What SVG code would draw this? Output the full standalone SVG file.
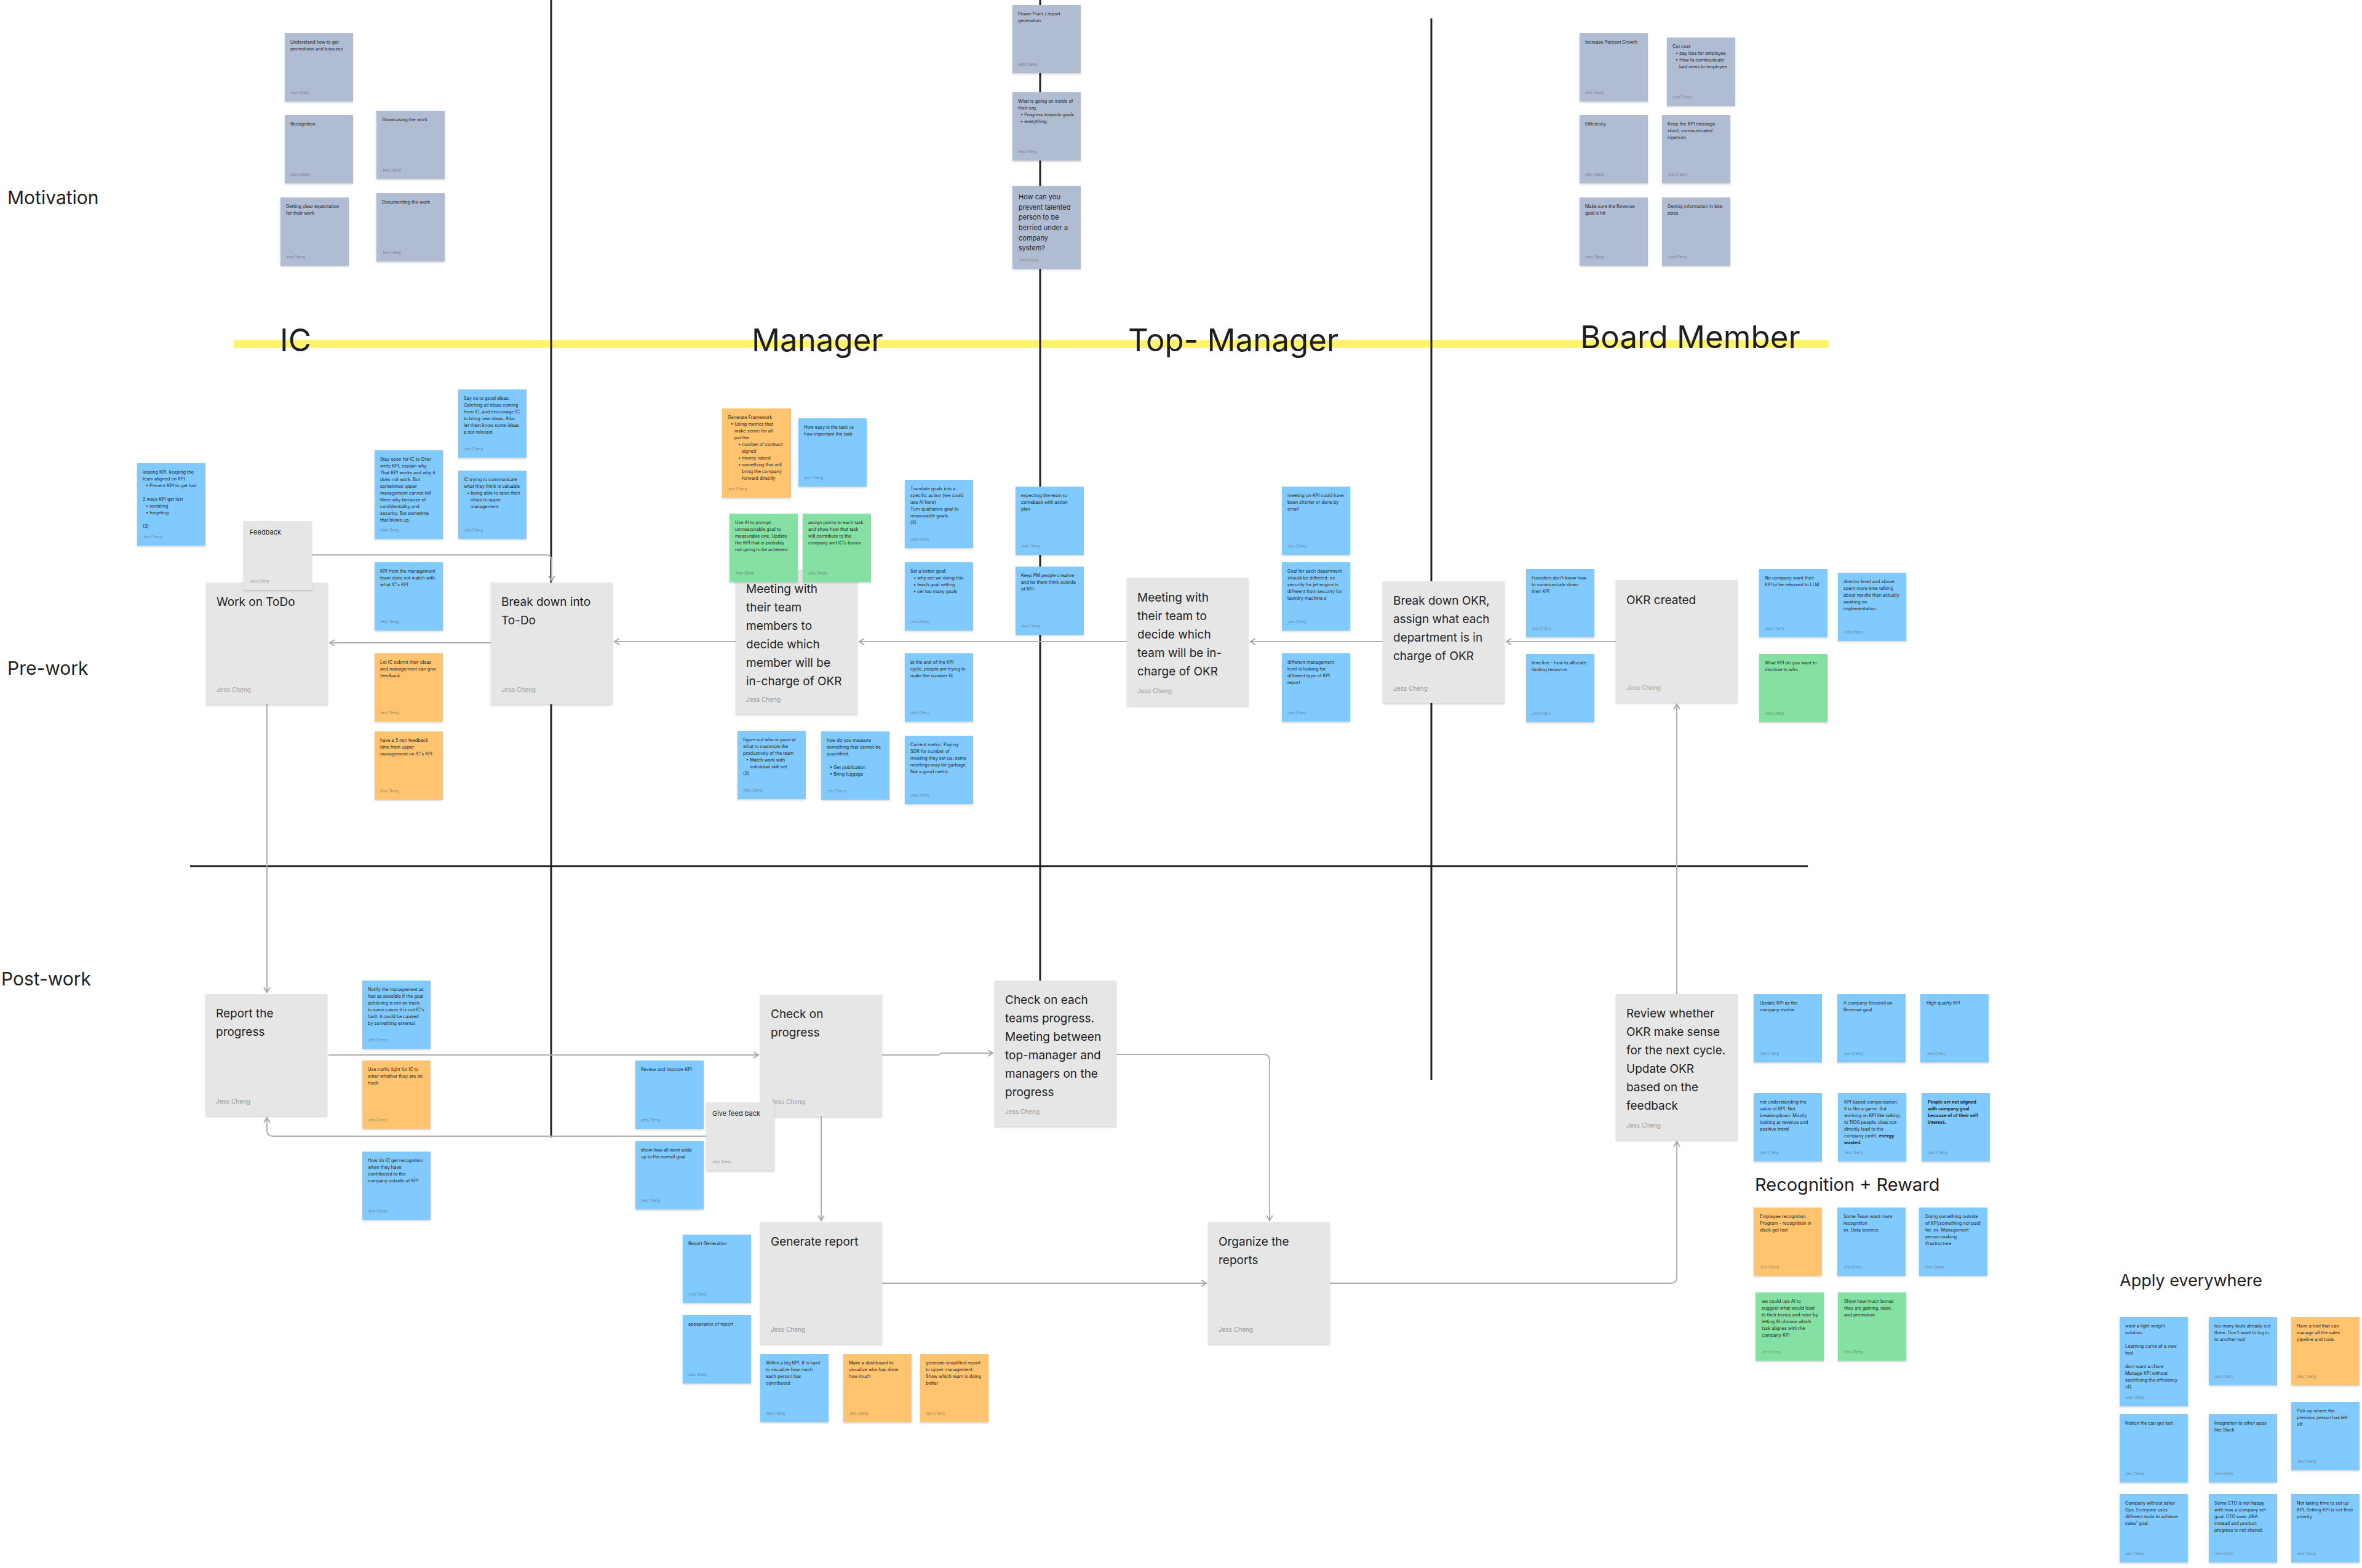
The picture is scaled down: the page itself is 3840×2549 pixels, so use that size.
<svg xmlns="http://www.w3.org/2000/svg" width="3840" height="2549" viewBox="0 0 3840 2549">
<defs>
<filter id="sh" x="-10%" y="-10%" width="120%" height="130%"><feDropShadow dx="0" dy="2" stdDeviation="1.5" flood-color="#000" flood-opacity="0.16"/></filter>
<marker id="ar" viewBox="0 0 14 14" refX="11" refY="7" markerWidth="14" markerHeight="14" markerUnits="userSpaceOnUse" orient="auto"><path d="M3 2 L11 7 L3 12" fill="none" stroke="#a8a8a8" stroke-width="2"/></marker>
<style>
text{font-family:Inter,"Noto Sans","Liberation Sans",sans-serif;fill:#1e1e1e}
.n rect{filter:url(#sh)}
.slate rect{fill:#afbcd2}
.blue rect{fill:#80caff}
.orange rect{fill:#ffc470}
.green rect{fill:#85e0a3}
.card rect{fill:#e6e6e6}
.t{font-size:7.3px}
.big{font-size:11px}
.b{font-weight:700}
.a{font-size:5.5px;fill:#4a4a4a;opacity:.55}
.ct{font-size:19px}
.cs{font-size:11px}
.ca{font-size:10px;fill:#999}
.lab{font-size:30px}
.head{font-size:51px}
.sec{font-size:29px}
.bl{stroke:#1e1e1e;stroke-width:3;fill:none}
.cn path{fill:none;stroke:#b0b0b0;stroke-width:2;marker-end:url(#ar)}
</style>
</defs>
<rect width="3840" height="2549" fill="#ffffff"/>

<g id="dividers">
<line x1="380" y1="559" x2="2973" y2="559" stroke="#fff36b" stroke-width="13"/>
<line class="bl" x1="896" y1="0" x2="896" y2="1849"/>
<line class="bl" x1="1691" y1="0" x2="1691" y2="1700"/>
<line class="bl" x1="2327" y1="30" x2="2327" y2="1756"/>
<line class="bl" x1="309" y1="1408" x2="2939" y2="1408"/>
</g>

<g id="labels">
<text class="lab" x="12" y="332">Motivation</text>
<text class="lab" x="12" y="1097">Pre-work</text>
<text class="lab" x="2" y="1602">Post-work</text>
<text class="head" x="455" y="571">IC</text>
<text class="head" x="1222" y="571">Manager</text>
<text class="head" x="1834" y="571">Top- Manager</text>
<text class="head" x="2569" y="566">Board Member</text>
<text class="sec" x="2853" y="1936">Recognition + Reward</text>
<text class="sec" x="3446" y="2091" style="font-size:27px">Apply everywhere</text>
</g>

<g id="connectors" class="cn">
<path d="M2627 1043 H2449"/>
<path d="M2248 1043 H2033"/>
<path d="M1832 1043 H1397"/>
<path d="M1196 1043 H999"/>
<path d="M798 1045 H536"/>
<path d="M507 902 H887 Q897 902 897 912 V944"/>
<path d="M434 1145 V1613"/>
<path d="M534 1715 H1233"/>
<path d="M1148 1847 H444 Q434 1847 434 1837 V1817"/>
<path d="M1434 1715 H1526 L1530 1712 H1614"/>
<path d="M1335 1815 V1984"/>
<path d="M1815 1714 H2054 Q2064 1714 2064 1724 V1984"/>
<path d="M1434 2086 H1961"/>
<path d="M2162 2086 H2716 Q2726 2086 2726 2076 V1856"/>
<path d="M2726 1616 V1145"/>
</g>

<!-- Motivation -->
<g id="m1" class="n slate" transform="translate(463,54)"><rect width="111" height="111"/><text class="t"><tspan x="9" y="17">Understand how to get</tspan><tspan x="9" y="28">promotions and bonuses</tspan></text><text class="a" x="9" y="99">Jess Cheng</text></g>
<g id="m2" class="n slate" transform="translate(463,187)"><rect width="111" height="111"/><text class="t"><tspan x="9" y="17">Recognition</tspan></text><text class="a" x="9" y="99">Jess Cheng</text></g>
<g id="m3" class="n slate" transform="translate(612,180)"><rect width="111" height="111"/><text class="t"><tspan x="9" y="17">Showcasing the work</tspan></text><text class="a" x="9" y="99">Jess Cheng</text></g>
<g id="m4" class="n slate" transform="translate(456,321)"><rect width="111" height="111"/><text class="t"><tspan x="9" y="17">Getting clear expectation</tspan><tspan x="9" y="28">for their work</tspan></text><text class="a" x="9" y="99">Jess Cheng</text></g>
<g id="m5" class="n slate" transform="translate(612,314)"><rect width="111" height="111"/><text class="t"><tspan x="9" y="17">Documenting the work</tspan></text><text class="a" x="9" y="99">Jess Cheng</text></g>

<g id="t1" class="n slate" transform="translate(1646,8)"><rect width="111" height="111"/><text class="t"><tspan x="9" y="17">Power Point / report</tspan><tspan x="9" y="28">generation</tspan></text><text class="a" x="9" y="99">Jess Cheng</text></g>
<g id="t2" class="n slate" transform="translate(1646,150)"><rect width="111" height="111"/><text class="t"><tspan x="9" y="17">What is going on inside of</tspan><tspan x="9" y="28">their org</tspan><tspan x="13" y="39">• Progress towards goals</tspan><tspan x="13" y="50">• everything</tspan></text><text class="a" x="9" y="99">Jess Cheng</text></g>
<g id="t3" class="n slate" transform="translate(1646,302)"><rect width="111" height="135"/><text class="big"><tspan x="10" y="22">How can you</tspan><tspan x="10" y="39">prevent talented</tspan><tspan x="10" y="55">person to be</tspan><tspan x="10" y="72">berried under a</tspan><tspan x="10" y="89">company</tspan><tspan x="10" y="105">system?</tspan></text><text class="a" x="10" y="123">Jess Cheng</text></g>

<g id="b1" class="n slate" transform="translate(2568,54)"><rect width="111" height="111"/><text class="t"><tspan x="9" y="17">Increase Percent Growth</tspan></text><text class="a" x="9" y="99">Jess Cheng</text></g>
<g id="b2" class="n slate" transform="translate(2710,61)"><rect width="111" height="111"/><text class="t"><tspan x="9" y="17">Cut cost</tspan><tspan x="14" y="28">• pay less for employee</tspan><tspan x="14" y="39">• How to communicate</tspan><tspan x="20" y="50">bad news to employee</tspan></text><text class="a" x="9" y="99">Jess Cheng</text></g>
<g id="b3" class="n slate" transform="translate(2568,187)"><rect width="111" height="111"/><text class="t"><tspan x="9" y="17">Efficiency</tspan></text><text class="a" x="9" y="99">Jess Cheng</text></g>
<g id="b4" class="n slate" transform="translate(2702,187)"><rect width="111" height="111"/><text class="t"><tspan x="9" y="17">Keep the KPI message</tspan><tspan x="9" y="28">short, communicated</tspan><tspan x="9" y="39">inperson</tspan></text><text class="a" x="9" y="99">Jess Cheng</text></g>
<g id="b5" class="n slate" transform="translate(2568,321)"><rect width="111" height="111"/><text class="t"><tspan x="9" y="17">Make sure the Revenue</tspan><tspan x="9" y="28">goal is hit</tspan></text><text class="a" x="9" y="99">Jess Cheng</text></g>
<g id="b6" class="n slate" transform="translate(2702,321)"><rect width="111" height="111"/><text class="t"><tspan x="9" y="17">Getting information in bite</tspan><tspan x="9" y="28">sizes</tspan></text><text class="a" x="9" y="99">Jess Cheng</text></g>

<!-- Pre-work IC -->
<g id="p1" class="n blue" transform="translate(223,753)"><rect width="111" height="134"/><text class="t"><tspan x="9" y="17">loosing KPI. keeping the</tspan><tspan x="9" y="28">team aligned on KPI</tspan><tspan x="14" y="39">• Prevent KPI to get lost</tspan><tspan x="9" y="61">2 ways KPI get lost</tspan><tspan x="14" y="72">• updating</tspan><tspan x="14" y="83">• forgeting</tspan><tspan x="9" y="105">(3)</tspan></text><text class="a" x="9" y="122">Jess Cheng</text></g>
<g id="p2" class="n blue" transform="translate(745,633)"><rect width="111" height="111"/><text class="t"><tspan x="9" y="17">Say no to good ideas.</tspan><tspan x="9" y="28">Catching all ideas coming</tspan><tspan x="9" y="39">from IC, and encourage IC</tspan><tspan x="9" y="50">to bring new ideas. Also</tspan><tspan x="9" y="61">let them know some ideas</tspan><tspan x="9" y="72">a not relevant</tspan></text><text class="a" x="9" y="99">Jess Cheng</text></g>
<g id="p3" class="n blue" transform="translate(609,732)"><rect width="111" height="144"/><text class="t"><tspan x="9" y="17">Stay open for IC to Over</tspan><tspan x="9" y="28">write KPI, explain why</tspan><tspan x="9" y="39">That KPI works and why it</tspan><tspan x="9" y="50">does not work. But</tspan><tspan x="9" y="61">sometimes upper</tspan><tspan x="9" y="72">management cannot tell</tspan><tspan x="9" y="83">them why because of</tspan><tspan x="9" y="94">confidentiality and</tspan><tspan x="9" y="105">security. But sometime</tspan><tspan x="9" y="116">that blows up.</tspan></text><text class="a" x="9" y="132">Jess Cheng</text></g>
<g id="p4" class="n blue" transform="translate(745,765)"><rect width="111" height="111"/><text class="t"><tspan x="9" y="17">IC trying to communicate</tspan><tspan x="9" y="28">what they think is valuable</tspan><tspan x="14" y="39">• being able to raise their</tspan><tspan x="20" y="50">ideas to upper</tspan><tspan x="20" y="61">management.</tspan></text><text class="a" x="9" y="99">Jess Cheng</text></g>
<g id="p5" class="n blue" transform="translate(609,914)"><rect width="111" height="111"/><text class="t"><tspan x="9" y="17">KPI from the management</tspan><tspan x="9" y="28">team does not match with</tspan><tspan x="9" y="39">what IC's KPI</tspan></text><text class="a" x="9" y="99">Jess Cheng</text></g>
<g id="p6" class="n orange" transform="translate(609,1062)"><rect width="111" height="111"/><text class="t"><tspan x="9" y="17">Let IC submit their ideas</tspan><tspan x="9" y="28">and management can give</tspan><tspan x="9" y="39">feedback</tspan></text><text class="a" x="9" y="99">Jess Cheng</text></g>
<g id="p7" class="n orange" transform="translate(609,1189)"><rect width="111" height="111"/><text class="t"><tspan x="9" y="17">have a 5 min feedback</tspan><tspan x="9" y="28">time from upper</tspan><tspan x="9" y="39">management on IC's KPI</tspan></text><text class="a" x="9" y="99">Jess Cheng</text></g>

<g id="c-work" class="n card" transform="translate(335,947)"><rect width="198" height="198"/><text class="ct"><tspan x="17" y="38">Work on ToDo</tspan></text><text class="ca" x="17" y="178">Jess Cheng</text></g>
<g id="c-feedback" class="n card" transform="translate(396,847)"><rect width="111" height="112"/><text class="cs"><tspan x="10" y="22">Feedback</tspan></text><text class="a" x="10" y="100">Jess Cheng</text></g>
<g id="c-breakdown" class="n card" transform="translate(798,947)"><rect width="198" height="198"/><text class="ct"><tspan x="17" y="38">Break down into</tspan><tspan x="17" y="68">To-Do</tspan></text><text class="ca" x="17" y="178">Jess Cheng</text></g>

<!-- Pre-work Manager -->
<g id="q1" class="n orange" transform="translate(1174,664)"><rect width="112" height="145"/><text class="t"><tspan x="9" y="17">Generate Framework</tspan><tspan x="14" y="28">• Using metrics that</tspan><tspan x="20" y="39">make sense for all</tspan><tspan x="20" y="50">parties</tspan><tspan x="26" y="61">• number of contract</tspan><tspan x="32" y="72">signed</tspan><tspan x="26" y="83">• money raised</tspan><tspan x="26" y="94">• something that will</tspan><tspan x="32" y="105">bring the company</tspan><tspan x="32" y="116">forward directly</tspan></text><text class="a" x="9" y="133">Jess Cheng</text></g>
<g id="q2" class="n blue" transform="translate(1298,680)"><rect width="111" height="111"/><text class="t"><tspan x="9" y="17">How easy is the task vs</tspan><tspan x="9" y="28">how important the task</tspan></text><text class="a" x="9" y="99">Jess Cheng</text></g>
<g id="c-members" class="n card" transform="translate(1196,926)"><rect width="198" height="235"/><text class="ct"><tspan x="17" y="38">Meeting with</tspan><tspan x="17" y="68">their team</tspan><tspan x="17" y="98">members to</tspan><tspan x="17" y="128">decide which</tspan><tspan x="17" y="158">member will be</tspan><tspan x="17" y="188">in-charge of OKR</tspan></text><text class="ca" x="17" y="215">Jess Cheng</text></g>
<g id="q3" class="n green" transform="translate(1186,835)"><rect width="111" height="111"/><text class="t"><tspan x="9" y="17">Use AI to prompt</tspan><tspan x="9" y="28">unmeasurable goal to</tspan><tspan x="9" y="39">measurable one. Update</tspan><tspan x="9" y="50">the KPI that is probably</tspan><tspan x="9" y="61">not going to be achieved</tspan></text><text class="a" x="9" y="99">Jess Cheng</text></g>
<g id="q4" class="n green" transform="translate(1305,835)"><rect width="111" height="111"/><text class="t"><tspan x="9" y="17">assign points to each task</tspan><tspan x="9" y="28">and show how that task</tspan><tspan x="9" y="39">will contribute to the</tspan><tspan x="9" y="50">company and IC's bonus</tspan></text><text class="a" x="9" y="99">Jess Cheng</text></g>
<g id="q5" class="n blue" transform="translate(1199,1188)"><rect width="111" height="111"/><text class="t"><tspan x="9" y="17">figure out who is good at</tspan><tspan x="9" y="28">what to maximize the</tspan><tspan x="9" y="39">productivity of the team</tspan><tspan x="14" y="50">• Match work with</tspan><tspan x="20" y="61">individual skill set</tspan><tspan x="9" y="72">(2)</tspan></text><text class="a" x="9" y="99">Jess Cheng</text></g>
<g id="q6" class="n blue" transform="translate(1335,1189)"><rect width="111" height="111"/><text class="t"><tspan x="9" y="17">how do you measure</tspan><tspan x="9" y="28">something that cannot be</tspan><tspan x="9" y="39">quantified.</tspan><tspan x="14" y="61">• Get publication</tspan><tspan x="14" y="72">• Bring luggage</tspan></text><text class="a" x="9" y="99">Jess Cheng</text></g>
<g id="q7" class="n blue" transform="translate(1471,780)"><rect width="111" height="111"/><text class="t"><tspan x="9" y="17">Translate goals into a</tspan><tspan x="9" y="28">specific action (we could</tspan><tspan x="9" y="39">use AI here)</tspan><tspan x="9" y="50">Turn qualitative goal to</tspan><tspan x="9" y="61">measurable goals.</tspan><tspan x="9" y="72">(2)</tspan></text><text class="a" x="9" y="99">Jess Cheng</text></g>
<g id="q8" class="n blue" transform="translate(1471,914)"><rect width="111" height="111"/><text class="t"><tspan x="9" y="17">Set a better goal:</tspan><tspan x="14" y="28">• why are we doing this</tspan><tspan x="14" y="39">• teach goal setting</tspan><tspan x="14" y="50">• set too many goals</tspan></text><text class="a" x="9" y="99">Jess Cheng</text></g>
<g id="q9" class="n blue" transform="translate(1471,1062)"><rect width="111" height="111"/><text class="t"><tspan x="9" y="17">at the end of the KPI</tspan><tspan x="9" y="28">cycle, people are trying to</tspan><tspan x="9" y="39">make the number fit</tspan></text><text class="a" x="9" y="99">Jess Cheng</text></g>
<g id="q10" class="n blue" transform="translate(1471,1196)"><rect width="111" height="111"/><text class="t"><tspan x="9" y="17">Current metric: Paying</tspan><tspan x="9" y="28">SDR for number of</tspan><tspan x="9" y="39">meeting they set up. some</tspan><tspan x="9" y="50">meetings may be garbage.</tspan><tspan x="9" y="61">Not a good metric</tspan></text><text class="a" x="9" y="99">Jess Cheng</text></g>

<!-- Pre-work Top manager -->
<g id="r1" class="n blue" transform="translate(1651,791)"><rect width="111" height="111"/><text class="t"><tspan x="9" y="17">expecting the team to</tspan><tspan x="9" y="28">comeback with action</tspan><tspan x="9" y="39">plan</tspan></text><text class="a" x="9" y="99">Jess Cheng</text></g>
<g id="r2" class="n blue" transform="translate(1651,921)"><rect width="111" height="111"/><text class="t"><tspan x="9" y="17">Keep PM people creative</tspan><tspan x="9" y="28">and let them think outside</tspan><tspan x="9" y="39">of KPI</tspan></text><text class="a" x="9" y="99">Jess Cheng</text></g>
<g id="c-team" class="n card" transform="translate(1832,939)"><rect width="198" height="208"/><text class="ct"><tspan x="17" y="39">Meeting with</tspan><tspan x="17" y="69">their team to</tspan><tspan x="17" y="99">decide which</tspan><tspan x="17" y="129">team will be in-</tspan><tspan x="17" y="159">charge of OKR</tspan></text><text class="ca" x="17" y="188">Jess Cheng</text></g>
<g id="r3" class="n blue" transform="translate(2084,791)"><rect width="111" height="111"/><text class="t"><tspan x="9" y="17">meeting on KPI could have</tspan><tspan x="9" y="28">been shorter or done by</tspan><tspan x="9" y="39">email</tspan></text><text class="a" x="9" y="99">Jess Cheng</text></g>
<g id="r4" class="n blue" transform="translate(2084,914)"><rect width="111" height="111"/><text class="t"><tspan x="9" y="17">Goal for each department</tspan><tspan x="9" y="28">should be different. ex</tspan><tspan x="9" y="39">security for jet engine is</tspan><tspan x="9" y="50">different from security for</tspan><tspan x="9" y="61">laundry machine z</tspan></text><text class="a" x="9" y="99">Jess Cheng</text></g>
<g id="r5" class="n blue" transform="translate(2084,1062)"><rect width="111" height="111"/><text class="t"><tspan x="9" y="17">different management</tspan><tspan x="9" y="28">level is looking for</tspan><tspan x="9" y="39">different type of KPI</tspan><tspan x="9" y="50">report</tspan></text><text class="a" x="9" y="99">Jess Cheng</text></g>

<!-- Pre-work Board -->
<g id="c-breakokr" class="n card" transform="translate(2248,945)"><rect width="198" height="198"/><text class="ct"><tspan x="17" y="38">Break down OKR,</tspan><tspan x="17" y="68">assign what each</tspan><tspan x="17" y="98">department is in</tspan><tspan x="17" y="128">charge of OKR</tspan></text><text class="ca" x="17" y="178">Jess Cheng</text></g>
<g id="u1" class="n blue" transform="translate(2481,925)"><rect width="111" height="111"/><text class="t"><tspan x="9" y="17">Founders don't know how</tspan><tspan x="9" y="28">to communicate down</tspan><tspan x="9" y="39">their KPI</tspan></text><text class="a" x="9" y="99">Jess Cheng</text></g>
<g id="u2" class="n blue" transform="translate(2481,1063)"><rect width="111" height="111"/><text class="t"><tspan x="9" y="17">time line - how to allocate</tspan><tspan x="9" y="28">limiting resource</tspan></text><text class="a" x="9" y="99">Jess Cheng</text></g>
<g id="c-okr" class="n card" transform="translate(2627,943)"><rect width="198" height="199"/><text class="ct"><tspan x="17" y="39">OKR created</tspan></text><text class="ca" x="17" y="179">Jess Cheng</text></g>
<g id="u3" class="n blue" transform="translate(2860,925)"><rect width="111" height="111"/><text class="t"><tspan x="9" y="17">No company want their</tspan><tspan x="9" y="28">KPI to be released to LLM</tspan></text><text class="a" x="9" y="99">Jess Cheng</text></g>
<g id="u4" class="n blue" transform="translate(2988,931)"><rect width="111" height="111"/><text class="t"><tspan x="9" y="17">director level and above</tspan><tspan x="9" y="28">spent more time talking</tspan><tspan x="9" y="39">about results than actually</tspan><tspan x="9" y="50">working on</tspan><tspan x="9" y="61">implementation</tspan></text><text class="a" x="9" y="99">Jess Cheng</text></g>
<g id="u5" class="n green" transform="translate(2860,1063)"><rect width="111" height="111"/><text class="t"><tspan x="9" y="17">What KPI do you want to</tspan><tspan x="9" y="28">disclose to who</tspan></text><text class="a" x="9" y="99">Jess Cheng</text></g>

<!-- Post-work -->
<g id="c-report" class="n card" transform="translate(334,1616)"><rect width="198" height="198"/><text class="ct"><tspan x="17" y="38">Report the</tspan><tspan x="17" y="68">progress</tspan></text><text class="ca" x="17" y="178">Jess Cheng</text></g>
<g id="v1" class="n blue" transform="translate(589,1594)"><rect width="111" height="111"/><text class="t"><tspan x="9" y="17">Notify the management as</tspan><tspan x="9" y="28">fast as possible if the goal</tspan><tspan x="9" y="39">achieving is not on track.</tspan><tspan x="9" y="50">In some cases it is not IC's</tspan><tspan x="9" y="61">fault. it could be caused</tspan><tspan x="9" y="72">by something external</tspan></text><text class="a" x="9" y="99">Jess Cheng</text></g>
<g id="v2" class="n orange" transform="translate(589,1724)"><rect width="111" height="111"/><text class="t"><tspan x="9" y="17">Use traffic light for IC to</tspan><tspan x="9" y="28">enter whether they are on</tspan><tspan x="9" y="39">track</tspan></text><text class="a" x="9" y="99">Jess Cheng</text></g>
<g id="v3" class="n blue" transform="translate(589,1872)"><rect width="111" height="111"/><text class="t"><tspan x="9" y="17">How do IC get recognition</tspan><tspan x="9" y="28">when they have</tspan><tspan x="9" y="39">contributed to the</tspan><tspan x="9" y="50">company outside of KPI</tspan></text><text class="a" x="9" y="99">Jess Cheng</text></g>
<g id="v4" class="n blue" transform="translate(1033,1724)"><rect width="111" height="111"/><text class="t"><tspan x="9" y="17">Review and improve KPI</tspan></text><text class="a" x="9" y="99">Jess Cheng</text></g>
<g id="v5" class="n blue" transform="translate(1033,1855)"><rect width="111" height="111"/><text class="t"><tspan x="9" y="17">show how all work adds</tspan><tspan x="9" y="28">up to the overall goal</tspan></text><text class="a" x="9" y="99">Jess Cheng</text></g>
<g id="c-check" class="n card" transform="translate(1236,1617)"><rect width="198" height="198"/><text class="ct"><tspan x="17" y="38">Check on</tspan><tspan x="17" y="68">progress</tspan></text><text class="ca" x="17" y="178">Jess Cheng</text></g>
<g id="c-givefeedback" class="n card" transform="translate(1148,1792)"><rect width="111" height="111"/><text class="cs"><tspan x="10" y="22">Give feed back</tspan></text><text class="a" x="10" y="99">Jess Cheng</text></g>
<g id="c-checkeach" class="n card" transform="translate(1617,1594)"><rect width="198" height="237"/><text class="ct"><tspan x="17" y="38">Check on each</tspan><tspan x="17" y="68">teams progress.</tspan><tspan x="17" y="98">Meeting between</tspan><tspan x="17" y="128">top-manager and</tspan><tspan x="17" y="158">managers on the</tspan><tspan x="17" y="188">progress</tspan></text><text class="ca" x="17" y="217">Jess Cheng</text></g>
<g id="c-generate" class="n card" transform="translate(1236,1987)"><rect width="198" height="198"/><text class="ct"><tspan x="17" y="38">Generate report</tspan></text><text class="ca" x="17" y="178">Jess Cheng</text></g>
<g id="v6" class="n blue" transform="translate(1110,2007)"><rect width="111" height="111"/><text class="t"><tspan x="9" y="17">Report Generation</tspan></text><text class="a" x="9" y="99">Jess Cheng</text></g>
<g id="v7" class="n blue" transform="translate(1110,2138)"><rect width="111" height="111"/><text class="t"><tspan x="9" y="17">appearance of report</tspan></text><text class="a" x="9" y="99">Jess Cheng</text></g>
<g id="v8" class="n blue" transform="translate(1236,2201)"><rect width="111" height="111"/><text class="t"><tspan x="9" y="17">Within a big KPI, It is hard</tspan><tspan x="9" y="28">to visualize how much</tspan><tspan x="9" y="39">each person has</tspan><tspan x="9" y="50">contributed</tspan></text><text class="a" x="9" y="99">Jess Cheng</text></g>
<g id="v9" class="n orange" transform="translate(1371,2201)"><rect width="111" height="111"/><text class="t"><tspan x="9" y="17">Make a dashboard to</tspan><tspan x="9" y="28">visualize who has done</tspan><tspan x="9" y="39">how much</tspan></text><text class="a" x="9" y="99">Jess Cheng</text></g>
<g id="v10" class="n orange" transform="translate(1496,2201)"><rect width="111" height="111"/><text class="t"><tspan x="9" y="17">generate simplified report</tspan><tspan x="9" y="28">to upper management.</tspan><tspan x="9" y="39">Show which team is doing</tspan><tspan x="9" y="50">better</tspan></text><text class="a" x="9" y="99">Jess Cheng</text></g>
<g id="c-organize" class="n card" transform="translate(1964,1987)"><rect width="198" height="198"/><text class="ct"><tspan x="17" y="38">Organize the</tspan><tspan x="17" y="68">reports</tspan></text><text class="ca" x="17" y="178">Jess Cheng</text></g>
<g id="c-review" class="n card" transform="translate(2627,1616)"><rect width="198" height="237"/><text class="ct"><tspan x="17" y="38">Review whether</tspan><tspan x="17" y="68">OKR make sense</tspan><tspan x="17" y="98">for the next cycle.</tspan><tspan x="17" y="128">Update OKR</tspan><tspan x="17" y="158">based on the</tspan><tspan x="17" y="188">feedback</tspan></text><text class="ca" x="17" y="217">Jess Cheng</text></g>

<!-- Recognition + Reward -->
<g id="w1" class="n blue" transform="translate(2851,1616)"><rect width="111" height="111"/><text class="t"><tspan x="10" y="17">Update KPI as the</tspan><tspan x="10" y="28">company evolve</tspan></text><text class="a" x="10" y="99">Jess Cheng</text></g>
<g id="w2" class="n blue" transform="translate(2987,1616)"><rect width="111" height="111"/><text class="t"><tspan x="10" y="17">A company focused on</tspan><tspan x="10" y="28">Revenue goal</tspan></text><text class="a" x="10" y="99">Jess Cheng</text></g>
<g id="w3" class="n blue" transform="translate(3122,1616)"><rect width="111" height="111"/><text class="t"><tspan x="10" y="17">High quality KPI</tspan></text><text class="a" x="10" y="99">Jess Cheng</text></g>
<g id="w4" class="n blue" transform="translate(2851,1777)"><rect width="111" height="111"/><text class="t"><tspan x="10" y="17">not understanding the</tspan><tspan x="10" y="28">value of KPI. Not</tspan><tspan x="10" y="39">breakingdown. Mostly</tspan><tspan x="10" y="50">looking at revenue and</tspan><tspan x="10" y="61">positive trend</tspan></text><text class="a" x="10" y="99">Jess Cheng</text></g>
<g id="w5" class="n blue" transform="translate(2988,1777)"><rect width="111" height="111"/><text class="t"><tspan x="10" y="17">KPI based compensation:</tspan><tspan x="10" y="28">It is like a game. But</tspan><tspan x="10" y="39">working on KPI like talking</tspan><tspan x="10" y="50">to 1000 people, does not</tspan><tspan x="10" y="61">directly lead to the</tspan><tspan x="10" y="72">company profit. <tspan class="b">energy</tspan></tspan><tspan class="b" x="10" y="83">wasted.</tspan></text><text class="a" x="10" y="99">Jess Cheng</text></g>
<g id="w6" class="n blue" transform="translate(3124,1777)"><rect width="111" height="111"/><text class="t b"><tspan x="10" y="17">People are not aligned</tspan><tspan x="10" y="28">with company goal</tspan><tspan x="10" y="39">because of of their self</tspan><tspan x="10" y="50">interest.</tspan></text><text class="a" x="10" y="99">Jess Cheng</text></g>
<g id="w7" class="n orange" transform="translate(2851,1963)"><rect width="111" height="111"/><text class="t"><tspan x="10" y="17">Employee recognition</tspan><tspan x="10" y="28">Program - recognition in</tspan><tspan x="10" y="39">slack get lost</tspan></text><text class="a" x="10" y="99">Jess Cheng</text></g>
<g id="w8" class="n blue" transform="translate(2987,1963)"><rect width="111" height="111"/><text class="t"><tspan x="10" y="17">Some Team want more</tspan><tspan x="10" y="28">recognition</tspan><tspan x="10" y="39">ex. Data science</tspan></text><text class="a" x="10" y="99">Jess Cheng</text></g>
<g id="w9" class="n blue" transform="translate(3120,1963)"><rect width="111" height="111"/><text class="t"><tspan x="10" y="17">Doing something outside</tspan><tspan x="10" y="28">of KPI/something not paid</tspan><tspan x="10" y="39">for. ex. Management</tspan><tspan x="10" y="50">person making</tspan><tspan x="10" y="61">ifrastructure</tspan></text><text class="a" x="10" y="99">Jess Cheng</text></g>
<g id="w10" class="n green" transform="translate(2854,2101)"><rect width="111" height="111"/><text class="t"><tspan x="10" y="17">we could use AI to</tspan><tspan x="10" y="28">suggest what would lead</tspan><tspan x="10" y="39">to their bonus and raise by</tspan><tspan x="10" y="50">letting AI choose which</tspan><tspan x="10" y="61">task alignes with the</tspan><tspan x="10" y="72">company KPI</tspan></text><text class="a" x="10" y="99">Jess Cheng</text></g>
<g id="w11" class="n green" transform="translate(2988,2101)"><rect width="111" height="111"/><text class="t"><tspan x="10" y="17">Show how much bonus</tspan><tspan x="10" y="28">they are gaining, raise,</tspan><tspan x="10" y="39">and promotion</tspan></text><text class="a" x="10" y="99">Jess Cheng</text></g>

<!-- Apply everywhere -->
<g id="x1" class="n blue" transform="translate(3446,2141)"><rect width="111" height="145"/><text class="t"><tspan x="9" y="17">want a light weight</tspan><tspan x="9" y="28">solution</tspan><tspan x="9" y="50">Learning curve of a new</tspan><tspan x="9" y="61">tool</tspan><tspan x="9" y="83">dont want a chore</tspan><tspan x="9" y="94">Manage KPI without</tspan><tspan x="9" y="105">sacrificing the efficiency</tspan><tspan x="9" y="116">(4)</tspan></text><text class="a" x="9" y="133">Jess Cheng</text></g>
<g id="x2" class="n blue" transform="translate(3591,2141)"><rect width="111" height="111"/><text class="t"><tspan x="9" y="17">too many tools already out</tspan><tspan x="9" y="28">there. Don't want to log in</tspan><tspan x="9" y="39">to another tool</tspan></text><text class="a" x="9" y="99">Jess Cheng</text></g>
<g id="x3" class="n orange" transform="translate(3725,2141)"><rect width="111" height="111"/><text class="t"><tspan x="9" y="17">Have a tool that can</tspan><tspan x="9" y="28">manage all the sales</tspan><tspan x="9" y="39">pipeline and tools</tspan></text><text class="a" x="9" y="99">Jess Cheng</text></g>
<g id="x4" class="n blue" transform="translate(3446,2299)"><rect width="111" height="111"/><text class="t"><tspan x="9" y="17">Notion file can get lost</tspan></text><text class="a" x="9" y="99">Jess Cheng</text></g>
<g id="x5" class="n blue" transform="translate(3591,2299)"><rect width="111" height="111"/><text class="t"><tspan x="9" y="17">Integration to other apps</tspan><tspan x="9" y="28">like Slack</tspan></text><text class="a" x="9" y="99">Jess Cheng</text></g>
<g id="x6" class="n blue" transform="translate(3725,2279)"><rect width="111" height="111"/><text class="t"><tspan x="9" y="17">Pick up where the</tspan><tspan x="9" y="28">previous person has left</tspan><tspan x="9" y="39">off</tspan></text><text class="a" x="9" y="99">Jess Cheng</text></g>
<g id="x7" class="n blue" transform="translate(3446,2429)"><rect width="111" height="111"/><text class="t"><tspan x="9" y="17">Company without sales</tspan><tspan x="9" y="28">Ops. Everyone uses</tspan><tspan x="9" y="39">different tools to achieve</tspan><tspan x="9" y="50">sales' goal</tspan></text><text class="a" x="9" y="99">Jess Cheng</text></g>
<g id="x8" class="n blue" transform="translate(3591,2429)"><rect width="111" height="111"/><text class="t"><tspan x="9" y="17">Some CTO is not happy</tspan><tspan x="9" y="28">with how a company set</tspan><tspan x="9" y="39">goal. CTO uses JIRA</tspan><tspan x="9" y="50">instead and product</tspan><tspan x="9" y="61">progress is not shared.</tspan></text><text class="a" x="9" y="99">Jess Cheng</text></g>
<g id="x9" class="n blue" transform="translate(3725,2429)"><rect width="111" height="111"/><text class="t"><tspan x="9" y="17">Not taking time to set up</tspan><tspan x="9" y="28">KPI. Setting KPI is not their</tspan><tspan x="9" y="39">priority</tspan></text><text class="a" x="9" y="99">Jess Cheng</text></g>
</svg>
